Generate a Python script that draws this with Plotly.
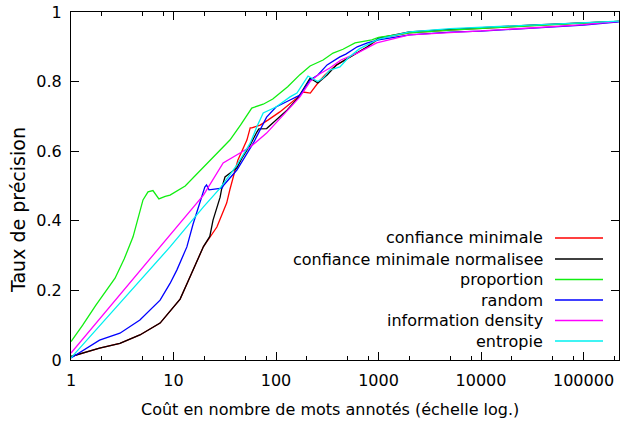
import plotly.graph_objects as go

# ---- data ----
series_names = ["confiance minimale", "confiance minimale normalisee", "proportion",
                "random", "information density", "entropie"]
series_colors = ["#ff0000", "#000000", "#11ee11", "#0000ff", "#ff00ff", "#00f0f0"]

red_x = [1, 1.9, 3, 4.7, 7.4, 11.6, 13.8, 18.1, 19.6, 26.5, 33, 35.5, 42.5, 52, 56, 58, 70, 84,
         109, 160, 184, 216, 256, 300, 390, 530, 780, 1030, 2000, 5000, 10000, 30000, 100000, 222000]
red_y = [0.01, 0.034, 0.048, 0.072, 0.106, 0.175, 0.225, 0.30, 0.326, 0.382, 0.451, 0.49, 0.575, 0.632,
         0.667, 0.667, 0.675, 0.69, 0.713, 0.753, 0.77, 0.767, 0.796, 0.819, 0.848, 0.871, 0.9, 0.925,
         0.94, 0.948, 0.953, 0.961, 0.969, 0.973]

black_x = [1, 1.9, 3, 4.7, 7.4, 11.6, 13.8, 18.1, 19.6, 22.6, 24.3, 28.5, 29.7, 31.8, 35.5, 41.5,
           46.5, 56, 65, 68, 81, 100, 128, 164, 215, 256, 315, 390, 620, 780, 1000, 2000, 5000,
           10000, 30000, 100000, 222000]
black_y = [0.01, 0.034, 0.048, 0.072, 0.106, 0.175, 0.225, 0.30, 0.326, 0.355, 0.402, 0.468, 0.497,
           0.526, 0.537, 0.552, 0.58, 0.618, 0.655, 0.664, 0.665, 0.69, 0.718, 0.753, 0.81, 0.796,
           0.819, 0.848, 0.882, 0.9, 0.925, 0.943, 0.95, 0.955, 0.962, 0.969, 0.973]

green_x = [1, 1.3, 1.75, 2.69, 3.3, 4.03, 5.04, 5.64, 6.3, 7.2, 8.3, 9.25, 13, 19.6, 26, 35.5, 45, 58,
           75, 93, 130, 171, 215, 288, 360, 450, 590, 860, 1000, 2000, 5000, 10000, 30000, 100000,
           222000]
green_y = [0.053, 0.1, 0.158, 0.235, 0.29, 0.354, 0.46, 0.483, 0.487, 0.463, 0.47, 0.474, 0.5, 0.555,
           0.59, 0.632, 0.675, 0.724, 0.735, 0.75, 0.785, 0.82, 0.845, 0.862, 0.882, 0.893, 0.911, 0.92,
           0.927, 0.94, 0.948, 0.952, 0.96, 0.968, 0.973]

blue_x = [1, 1.9, 3, 4.7, 7.4, 9.25, 10.8, 13.5, 15.5, 18.1, 20.2, 21, 22.2, 29.7, 31, 41.5, 60, 81,
          100, 137, 171, 215, 256, 315, 420, 480, 620, 780, 1000, 2000, 5000, 10000, 30000, 100000,
          222000]
blue_y = [0.006, 0.057, 0.077, 0.115, 0.172, 0.22, 0.259, 0.325, 0.39, 0.451, 0.497, 0.503, 0.489,
          0.494, 0.503, 0.546, 0.623, 0.698, 0.727, 0.747, 0.761, 0.805, 0.819, 0.848, 0.871, 0.879,
          0.9, 0.911, 0.92, 0.934, 0.942, 0.945, 0.953, 0.962, 0.972]

magenta_x = [1, 2, 4, 9.25, 19.6, 30.5, 41.5, 47.5, 56, 81, 117, 171, 215, 256, 335, 430, 620, 960,
             2000, 5000, 10000, 30000, 100000, 222000]
magenta_y = [0.02, 0.126, 0.231, 0.359, 0.474, 0.566, 0.589, 0.598, 0.612, 0.652, 0.704, 0.756, 0.8,
             0.819, 0.839, 0.862, 0.882, 0.911, 0.934, 0.942, 0.946, 0.954, 0.964, 0.973]

cyan_x = [1, 2, 4, 9.25, 19.6, 28.5, 41.5, 56, 65, 75, 100, 137, 160, 205, 256, 288, 335, 420, 505,
          650, 1000, 2000, 5000, 10000, 40000, 100000, 222000]
cyan_y = [0.006, 0.105, 0.203, 0.325, 0.44, 0.494, 0.56, 0.623, 0.67, 0.71, 0.727, 0.756, 0.767,
          0.816, 0.8, 0.81, 0.833, 0.842, 0.868, 0.894, 0.922, 0.943, 0.952, 0.956, 0.966, 0.97, 0.974]

all_x = [red_x, black_x, green_x, blue_x, magenta_x, cyan_x]
all_y = [red_y, black_y, green_y, blue_y, magenta_y, cyan_y]

x_major = [1, 10, 100, 1000, 10000, 100000]
x_major_labels = ["1", "10", "100", "1000", "10000", "100000"]
x_minor = [m * 10 ** d for d in range(0, 6) for m in (2, 5, 8)]
y_ticks = [0, 0.2, 0.4, 0.6, 0.8, 1]
y_tick_labels = ["0", "0.2", "0.4", "0.6", "0.8", "1"]

FONT = "DejaVu Sans"
fig = go.Figure()
for xs, ys, name, col in zip(all_x, all_y, series_names, series_colors):
    fig.add_trace(go.Scatter(x=xs, y=ys, mode="lines", name=name,
                             line=dict(color=col, width=1.3), showlegend=False))

# plot area in pixels
L, W, T, H = 71, 548, 12, 348
row_y = [238, 259, 279.5, 300, 320.5, 341]
for name, col, py in zip(series_names, series_colors, row_y):
    yp = (T + H - py) / H
    fig.add_annotation(x=(545 - L) / W, y=yp, xref="paper", yref="paper", text=name,
                       showarrow=False, xanchor="right", yanchor="middle",
                       font=dict(family=FONT, size=16, color="#000"))
    fig.add_shape(type="line", xref="paper", yref="paper", x0=(555 - L) / W, x1=(603 - L) / W,
                  y0=yp, y1=yp, line=dict(color=col, width=1.3))

fig.add_annotation(x=(330 - L) / W, y=(T + H - 409) / H, xref="paper", yref="paper",
                   text="Coût en nombre de mots annotés (échelle log.)", showarrow=False,
                   xanchor="center", yanchor="middle", font=dict(family=FONT, size=16, color="#000"))
fig.add_annotation(x=(18 - L) / W, y=(T + H - 210) / H, xref="paper", yref="paper",
                   text="Taux de précision", showarrow=False, textangle=-90,
                   xanchor="center", yanchor="middle", font=dict(family=FONT, size=19, color="#000"))

fig.update_xaxes(type="log", range=[0, 5.346], tickvals=x_major, ticktext=x_major_labels,
                 ticks="inside", ticklen=8, tickwidth=1, tickcolor="#000",
                 minor=dict(tickvals=x_minor, ticks="inside", ticklen=4, tickcolor="#000", tickwidth=1,
                            showgrid=False),
                 showline=True, linecolor="#000", linewidth=1.2, mirror="ticks",
                 showgrid=False, zeroline=False, automargin=False,
                 ticklabelstandoff=6, ticklabeloverflow="allow",
                 tickfont=dict(family=FONT, size=16, color="#000"))
fig.update_yaxes(range=[0, 1], tickvals=y_ticks, ticktext=y_tick_labels,
                 ticks="inside", ticklen=8, tickwidth=1, tickcolor="#000",
                 showline=True, linecolor="#000", linewidth=1.2, mirror="ticks",
                 showgrid=False, zeroline=False, automargin=False,
                 ticklabelstandoff=5, ticklabeloverflow="allow",
                 tickfont=dict(family=FONT, size=16, color="#000"))
FW, FH = 620, 421
fig.update_layout(width=FW, height=FH,
                  margin=dict(l=L, r=FW - L - W, t=T, b=FH - T - H, autoexpand=False),
                  paper_bgcolor="white", plot_bgcolor="white",
                  font=dict(family=FONT, size=16, color="#000"))
# remove the default 8px page margin so the figure fills the window exactly
fig.write_html("out.html", config={"displayModeBar": False},
               post_script="document.body.style.margin='0px';")
